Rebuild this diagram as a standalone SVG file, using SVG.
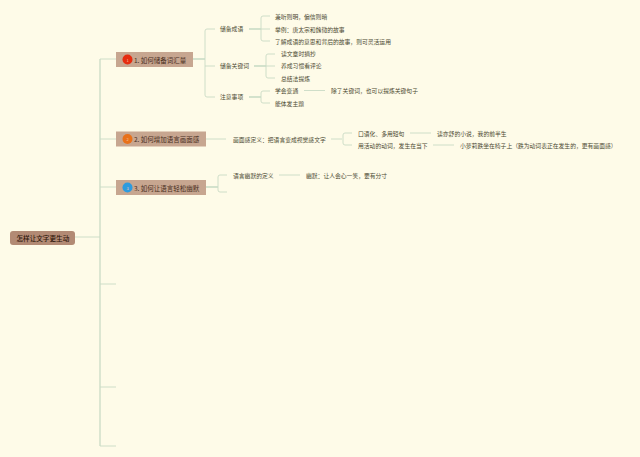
<svg xmlns="http://www.w3.org/2000/svg" width="640" height="457" viewBox="0 0 640 457">
<style>
text{font-family:"Noto Sans CJK SC","Noto Sans",sans-serif;dominant-baseline:central}
.t{font-size:5.8px;fill:#4c4a32}
.b{font-size:6.500px;fill:#4a2f1e}
.r{font-size:6.600px;fill:#2e160a;font-weight:500}
.n{font-size:4px;fill:#f6c9a8;text-anchor:middle}
.bx{fill:#c7a690}
.c{fill:none;stroke:#c9dac5;stroke-width:.9}
.h{fill:none;stroke:#a9c9b0;stroke-width:1}
.k{fill:none;stroke:#c9dac5;stroke-width:1.300}
</style>
<rect width="640" height="457" fill="#fefbe8"/>
<g id="connectors">
<path class="k" d="M100 59V446"/>
<path class="c" d="M75 237H100M100 59H116M100 139H116M100 187H116M100 284H116M100 387H116M100 446H116"/>
<path class="h" d="M193 59H205"/>
<path class="c" d="M215 29H207Q205 29 205 31V95Q205 97 207 97H215M205 66H215"/>
<path class="h" d="M249 29H261"/>
<path class="c" d="M270 16H263Q261 16 261 18V39Q261 41 263 41H270M261 29H270"/>
<path class="h" d="M254 66H266"/>
<path class="c" d="M275 54H268Q266 54 266 56V76Q266 78 268 78H275M266 66H275"/>
<path class="h" d="M249 97H261"/>
<path class="c" d="M270 91H263Q261 91 261 93V101Q261 103 263 103H270M304 90.500H325"/>
<path class="c" d="M206 139H226M331 139H342"/>
<path class="c" d="M352 133H345Q343 133 343 135V143Q343 145 345 145H352M410 133H431M433 145H454"/>
<path class="h" d="M206 187H218"/>
<path class="c" d="M227 175H220Q218 175 218 177V190Q218 192 220 192H227M279 175H300"/>
</g>
<g id="root"><rect class="bx" x="10" y="231" width="65" height="14" rx="3" style="fill:#b28a74"/><text class="r" x="16.500" y="237.500">怎样让文字更生动</text></g>
<g id="node-1"><rect class="bx" x="116" y="52" width="77" height="15"/><circle cx="127.500" cy="59.500" r="5" fill="#e62c10"/><text class="n" x="127.500" y="59.500">1</text><text class="b" x="134" y="59.500">1. 如何储备词汇量</text></g>
<g id="node-2"><rect class="bx" x="116" y="131.500" width="90" height="15"/><circle cx="127.500" cy="139" r="5" fill="#e8711a"/><text class="n" x="127.500" y="139">2</text><text class="b" x="134" y="139">2. 如何增加语言画面感</text></g>
<g id="node-3"><rect class="bx" x="116" y="180" width="90" height="15"/><circle cx="127.500" cy="187.500" r="5" fill="#2d9bdf"/><text class="n" x="127.500" y="187.500">3</text><text class="b" x="134" y="187.500">3. 如何让语言轻松幽默</text></g>
<g id="leaves" transform="translate(0,-.5)">
<g id="n11"><text class="t" x="220" y="29">储备成语</text></g>
<g id="n12"><text class="t" x="220" y="66">储备关键词</text></g>
<g id="n13"><text class="t" x="220" y="97">注意事项</text></g>
<g id="n111"><text class="t" x="275" y="17">兼听则明，偏信则暗</text></g>
<g id="n112"><text class="t" x="275" y="29.500">举例：唐太宗和魏徵的故事</text></g>
<g id="n113"><text class="t" x="275" y="42">了解成语的意思和背后的故事，则可灵活运用</text></g>
<g id="n121"><text class="t" x="281" y="54">读文章时摘抄</text></g>
<g id="n122"><text class="t" x="281" y="66">养成习惯看评论</text></g>
<g id="n123"><text class="t" x="281" y="79">总结法提炼</text></g>
<g id="n131"><text class="t" x="275" y="91">学会变通</text></g>
<g id="n132"><text class="t" x="331" y="91">除了关键词，也可以提炼关键句子</text></g>
<g id="n133"><text class="t" x="275" y="103.500">能体发主题</text></g>
<g id="n21"><text class="t" x="233" y="139.500">画面感定义：把语言变成视觉感文字</text></g>
<g id="n211"><text class="t" x="358" y="133.500">口语化、多用短句</text></g>
<g id="n212"><text class="t" x="437" y="133.500">读亦舒的小说，我的前半生</text></g>
<g id="n213"><text class="t" x="358" y="146">用活动的动词，发生在当下</text></g>
<g id="n214"><text class="t" x="460" y="146">小萝莉跌坐在椅子上（跌为动词表正在发生的，更有画面感）</text></g>
<g id="n31"><text class="t" x="233" y="175.500">语言幽默的定义</text></g>
<g id="n32"><text class="t" x="306" y="175.500">幽默：让人会心一笑，要有分寸</text></g>
</g>
</svg>
